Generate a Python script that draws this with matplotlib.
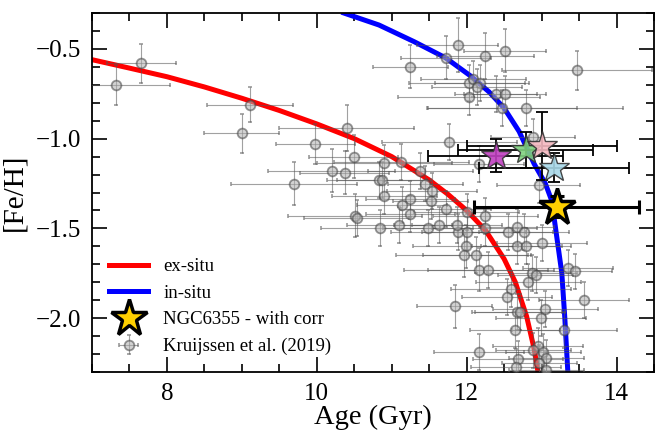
import numpy as np
import matplotlib.pyplot as plt

plt.rcParams['font.family'] = ['Liberation Serif', 'DejaVu Serif']
plt.rcParams['mathtext.fontset'] = 'stix'

# age-metallicity relations
exsitu_age = [7.0, 7.5, 8.0, 8.5, 9.0, 9.5, 10.0, 10.5, 11.0, 11.5, 11.75, 12.0,
              12.25, 12.5, 12.65, 12.8, 12.9, 12.96]
exsitu_feh = [-0.56, -0.607, -0.655, -0.712, -0.775, -0.843, -0.918, -1.0, -1.1, -1.23,
              -1.31, -1.40, -1.51, -1.67, -1.80, -1.99, -2.17, -2.32]

insitu_age = [10.36, 10.83, 11.3, 11.72, 12.05, 12.3, 12.5, 12.7, 12.9, 13.05, 13.13,
              13.17, 13.22, 13.27, 13.31, 13.35]
insitu_feh = [-0.30, -0.367, -0.46, -0.55, -0.65, -0.74, -0.83, -0.96, -1.14, -1.25, -1.34,
              -1.45, -1.6, -1.75, -2.0, -2.3]

# Kruijssen et al. (2019) clusters
k19_age = [7.66, 7.32, 9.11, 9.00, 10.40, 9.98, 10.49, 10.20, 10.37, 9.70, 10.83, 10.87,
           11.88, 12.51, 11.72, 12.25, 11.25, 13.47, 12.03, 12.09, 12.18, 12.14, 12.03, 12.39,
           12.51, 12.47, 12.79, 12.89, 11.77, 12.17, 11.13, 10.90, 11.38, 11.45, 11.54, 12.96,
           10.90, 11.25, 11.52, 11.14, 11.72, 10.51, 10.53, 11.25, 10.85, 11.10, 11.49, 11.63,
           12.00, 12.25, 11.89, 12.00, 12.24, 12.55, 12.67, 12.76, 11.99, 12.67, 12.79, 13.01,
           11.96, 12.12, 12.16, 12.29, 13.35, 13.44, 12.87, 12.92, 12.82, 12.59, 12.54, 13.56,
           11.84, 13.05, 12.67, 12.71, 12.99, 12.65, 13.30, 12.95, 12.16, 12.89, 13.02, 13.06,
           12.68, 12.97, 13.06, 12.66, 11.87]
k19_feh = [-0.58, -0.70, -0.81, -0.97, -0.94, -1.03, -1.10, -1.18, -1.19, -1.25, -1.23, -1.23,
           -0.48, -0.51, -0.55, -0.54, -0.60, -0.62, -0.69, -0.67, -0.69, -0.71, -0.77, -0.75,
           -0.75, -0.83, -0.83, -0.99, -1.02, -1.14, -1.13, -1.135, -1.18, -1.25, -1.29, -1.26,
           -1.32, -1.335, -1.35, -1.37, -1.39, -1.43, -1.44, -1.42, -1.50, -1.48, -1.50, -1.48,
           -1.41, -1.43, -1.52, -1.52, -1.50, -1.52, -1.49, -1.52, -1.60, -1.60, -1.60, -1.58,
           -1.65, -1.65, -1.73, -1.73, -1.72, -1.74, -1.75, -1.76, -1.80, -1.84, -1.88, -1.90,
           -1.935, -1.95, -1.965, -1.965, -2.00, -2.065, -2.065, -2.155, -2.19, -2.18, -2.19, -2.22,
           -2.23, -2.25, -2.29, -2.27, -1.48]
k19_age_err = [0.46, 0.72, 0.57, 0.50, 0.90, 0.53, 0.60, 0.85, 0.60, 0.84, 0.70, 0.60,
               0.54, 0.55, 0.60, 0.65, 0.50, 1.00, 0.80, 0.70, 0.60, 0.60, 0.95, 0.55,
               0.55, 1.00, 1.30, 0.56, 0.90, 0.60, 0.90, 0.90, 0.70, 0.50, 0.60, 0.55,
               0.70, 0.60, 0.50, 0.60, 0.60, 0.90, 0.70, 0.60, 0.80, 0.70, 0.60, 0.60,
               0.70, 0.70, 0.90, 0.60, 0.70, 0.60, 0.50, 0.60, 0.70, 0.60, 0.60, 0.60,
               0.90, 0.70, 1.00, 0.80, 0.60, 0.50, 0.60, 0.50, 0.70, 0.80, 0.60, 0.60,
               0.50, 0.70, 0.60, 0.60, 0.60, 0.60, 0.70, 0.60, 0.60, 0.50, 0.50, 0.50,
               0.60, 0.50, 0.50, 0.60, 0.60]
k19_feh_err = [0.11, 0.11, 0.10, 0.11, 0.13, 0.11, 0.12, 0.12, 0.12, 0.12, 0.10, 0.10,
               0.15, 0.12, 0.12, 0.13, 0.12, 0.11, 0.10, 0.10, 0.10, 0.10, 0.10, 0.10,
               0.10, 0.10, 0.10, 0.10, 0.10, 0.10, 0.10, 0.10, 0.10, 0.10, 0.10, 0.10,
               0.10, 0.10, 0.10, 0.10, 0.10, 0.12, 0.10, 0.10, 0.10, 0.10, 0.10, 0.10,
               0.10, 0.10, 0.10, 0.10, 0.10, 0.10, 0.10, 0.10, 0.12, 0.10, 0.10, 0.10,
               0.12, 0.10, 0.12, 0.10, 0.10, 0.10, 0.10, 0.10, 0.10, 0.10, 0.10, 0.10,
               0.12, 0.10, 0.10, 0.10, 0.10, 0.10, 0.10, 0.10, 0.10, 0.10, 0.10, 0.10,
               0.10, 0.10, 0.10, 0.10, 0.10]

# NGC6355 estimates (coloured stars)
star_age = [12.39, 12.79, 13.0, 13.17]
star_feh = [-1.094, -1.061, -1.04, -1.161]
star_age_err = [0.9, 0.9, 1.0, 1.0]
star_feh_err = [0.09, 0.10, 0.19, 0.08]
star_colors = ['#c040c0', '#80d080', '#f4b8c0', '#a8d8e8']

ngc_age, ngc_feh = 13.2, -1.378
ngc_age_err, ngc_feh_err = 1.1, 0.06

fig = plt.figure(figsize=(6.56, 4.32), dpi=100)
ax = fig.add_axes([92/656, 60/432, 562/656, 359/432])

ax.plot(exsitu_age, exsitu_feh, c='red', lw=3.6, zorder=2, label='ex-situ')
ax.plot(insitu_age, insitu_feh, c='blue', lw=3.6, zorder=2, label='in-situ')

k19 = ax.errorbar(k19_age, k19_feh, xerr=k19_age_err, yerr=k19_feh_err, fmt='o',
                  ms=7, mfc='#b0b0b0', mec='#404040', mew=1.3, ecolor='#555555', elinewidth=0.8,
                  capsize=1.5, alpha=0.55, zorder=3, label='Kruijssen et al. (2019)')

for a, f, ae, fe, c in zip(star_age, star_feh, star_age_err, star_feh_err, star_colors):
    ax.errorbar(a, f, xerr=ae, yerr=fe, fmt='none', ecolor='black', elinewidth=1.3,
                capsize=4, capthick=1.3, zorder=4)
    ax.plot(a, f, '*', ms=22, mfc=c, mec='#333333', mew=1.0, alpha=0.9, zorder=5)

ax.errorbar(ngc_age, ngc_feh, xerr=ngc_age_err, yerr=ngc_feh_err, fmt='none',
            ecolor='black', elinewidth=2.2, capsize=5, capthick=2.2, zorder=6)
ngc, = ax.plot(ngc_age, ngc_feh, '*', ms=28, mfc='#ffd000', mec='black', mew=2.5,
               zorder=7, label='NGC6355 - with corr')

ax.set_xlim(7, 14.5)
ax.set_ylim(-2.3, -0.3)
ax.xaxis.set_major_locator(plt.MultipleLocator(2))
ax.xaxis.set_minor_locator(plt.MultipleLocator(0.5))
ax.yaxis.set_major_locator(plt.MultipleLocator(0.5))
ax.yaxis.set_minor_locator(plt.MultipleLocator(0.1))
ax.tick_params(which='both', direction='in', top=True, right=True, labelsize=18, width=1.2)
ax.tick_params(which='major', length=11, pad=8)
ax.tick_params(which='minor', length=5.5)
for s in ax.spines.values():
    s.set_linewidth(1.3)

ax.set_xlabel('Age (Gyr)', fontsize=20.5, labelpad=0)
ax.set_ylabel('[Fe/H]', fontsize=21, labelpad=6)

handles, labels = ax.get_legend_handles_labels()
order = ['ex-situ', 'in-situ', 'NGC6355 - with corr', 'Kruijssen et al. (2019)']
hmap = dict(zip(labels, handles))
ax.legend([hmap[o] for o in order], order, loc='lower left', frameon=False,
          fontsize=13.5, handlelength=2.1, labelspacing=0.5, borderaxespad=0.5)

plt.savefig('out.png', dpi=100)
